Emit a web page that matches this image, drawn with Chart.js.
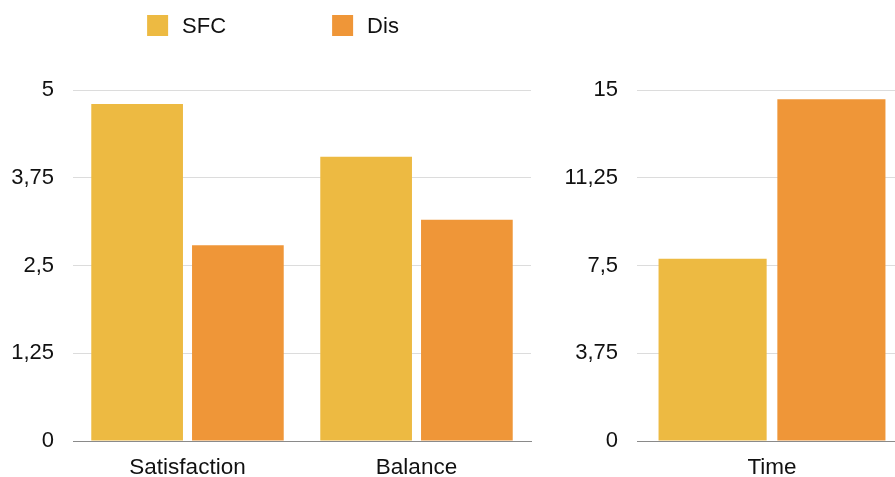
<!DOCTYPE html>
<html>
<head>
<meta charset="utf-8">
<script src="https://cdn.jsdelivr.net/npm/chart.js@4.4.1/dist/chart.umd.min.js"></script>
<style>
  html, body { margin: 0; padding: 0; background: #fff; }
  #wrap { position: relative; width: 895px; height: 477px; overflow: hidden; background: #fff; }
  #left { position: absolute; left: 0; top: 0; width: 546px; height: 480px; }
  #right { position: absolute; left: 547px; top: 0; width: 360px; height: 480px; }
</style>
</head>
<body>
<div id="wrap">
  <div id="left"><canvas id="cLeft"></canvas></div>
  <div id="right"><canvas id="cRight"></canvas></div>
</div>
<script>
// Scores (0–5 scale)
const scoreCategories = ['Satisfaction', 'Balance'];
const scoreSFC = [4.80, 4.05];
const scoreDis = [2.79, 3.15];
const scoreTicks = [0, 1.25, 2.5, 3.75, 5];

// Time (0–15 scale)
const timeCategories = ['Time'];
const timeSFC = [7.79];
const timeDis = [14.6];
const timeTicks = [0, 3.75, 7.5, 11.25, 15];

const seriesNames = ['SFC', 'Dis'];
const colSFC = '#EDBA42';
const colDis = '#EF9638';

const FONT = 'Liberation Sans, Arial, Helvetica, sans-serif';

function fmt(v) { return String(v).replace('.', ','); }

// Legend row above the left panel: square swatch, text, wide gap between entries
const topLegend = {
  id: 'topLegend',
  afterDraw(chart) {
    const ctx = chart.ctx;
    const box = 21, gapText = 14, gapItem = 106, y = 15;
    ctx.save();
    ctx.font = '22px ' + FONT;
    const items = chart.data.datasets.map(ds => ({
      text: ds.label, color: ds.backgroundColor, w: ctx.measureText(ds.label).width
    }));
    const total = items.reduce((a, it) => a + box + gapText + it.w, 0) + gapItem * (items.length - 1);
    let x = chart.width / 2 - total / 2;
    ctx.textBaseline = 'middle';
    ctx.textAlign = 'left';
    items.forEach(it => {
      ctx.fillStyle = it.color;
      ctx.fillRect(x, y, box, box);
      ctx.fillStyle = '#111';
      ctx.fillText(it.text, x + box + gapText, y + box / 2 + 1);
      x += box + gapText + it.w + gapItem;
    });
    ctx.restore();
  }
};

function makeOptions(ticks, yWidth, padRight) {
  return {
    responsive: true,
    maintainAspectRatio: false,
    animation: false,
    layout: { padding: { top: 90, right: padRight, bottom: 0, left: 0 } },
    plugins: { legend: { display: false }, tooltip: { enabled: false } },
    scales: {
      x: {
        grid: { display: false, drawTicks: false },
        border: { display: true, color: '#8a8a8a', width: 1 },
        ticks: { color: '#111', font: { family: FONT, size: 22.5 }, padding: 13 },
        afterFit(s) { s.height = 39; }
      },
      y: {
        min: 0, max: ticks[ticks.length - 1],
        afterBuildTicks(s) { s.ticks = ticks.map(v => ({ value: v })); },
        grid: { color: '#dcdcdc', drawTicks: false, lineWidth: 1 },
        border: { display: false },
        ticks: { color: '#111', font: { family: FONT, size: 22 }, padding: 19, callback: v => fmt(v) },
        afterFit(s) { s.width = yWidth; }
      }
    }
  };
}

new Chart(document.getElementById('cLeft'), {
  type: 'bar',
  data: {
    labels: scoreCategories,
    datasets: [
      { label: seriesNames[0], data: scoreSFC, backgroundColor: colSFC, categoryPercentage: 0.88, barPercentage: 0.91 },
      { label: seriesNames[1], data: scoreDis, backgroundColor: colDis, categoryPercentage: 0.88, barPercentage: 0.91 }
    ]
  },
  options: makeOptions(scoreTicks, 73, 15),
  plugins: [topLegend]
});

new Chart(document.getElementById('cRight'), {
  type: 'bar',
  data: {
    labels: timeCategories,
    datasets: [
      { label: seriesNames[0], data: timeSFC, backgroundColor: colSFC, categoryPercentage: 0.88, barPercentage: 0.91 },
      { label: seriesNames[1], data: timeDis, backgroundColor: colDis, categoryPercentage: 0.88, barPercentage: 0.91 }
    ]
  },
  options: makeOptions(timeTicks, 90, 0)
});
</script>
</body>
</html>
